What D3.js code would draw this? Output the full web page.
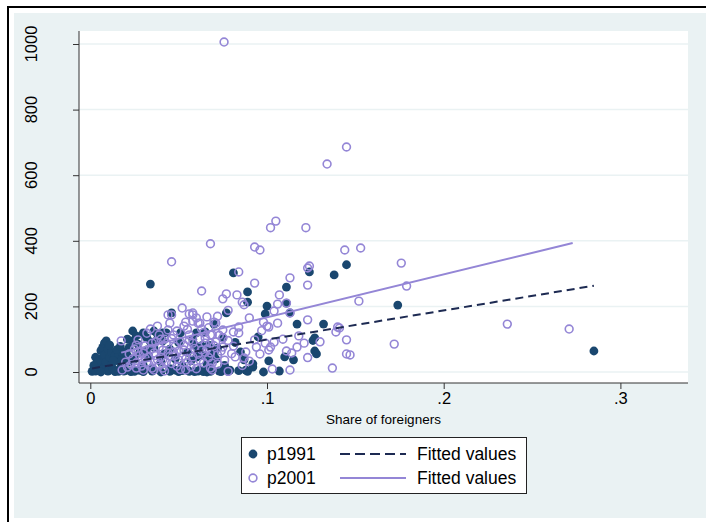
<!DOCTYPE html>
<html>
<head>
<meta charset="utf-8">
<script src="https://cdn.jsdelivr.net/npm/d3@7"></script>
<style>
    body { margin: 0; background: #fff; }
    svg { display: block; font-family: "Liberation Sans", Arial, sans-serif; }
</style>
</head>
<body>
<div class="scatter"></div>
<script>
// p1991 (filled) : [share of foreigners, value]
let p1991 = [
    [0.001, 2], [0.002, 8], [0.003, 3], [0.004, 15], [0.005, 5], [0.005, 25], [0.006, 40], [0.006, 65],
    [0.007, 75], [0.007, 10], [0.008, 88], [0.008, 52], [0.009, 95], [0.009, 30], [0.010, 70], [0.010, 3],
    [0.011, 45], [0.012, 60], [0.012, 20], [0.013, 8], [0.014, 50], [0.015, 35], [0.016, 55], [0.017, 12],
    [0.018, 40], [0.019, 25], [0.020, 5], [0.021, 50], [0.022, 30], [0.003, 45], [0.004, 30], [0.002, 20],
    [0.011, 82], [0.013, 35], [0.016, 2], [0.018, 60], [0.006, 0], [0.014, 1], [0.019, 3], [0.023, 1],
    [0.025, 2], [0.030, 1], [0.035, 3], [0.040, 0], [0.045, 2], [0.050, 1], [0.052, 4], [0.056, 2],
    [0.059, 1], [0.061, 3], [0.064, 1], [0.066, 0], [0.068, 2], [0.073, 3], [0.074, 1], [0.078, 2],
    [0.079, 6], [0.084, 4], [0.088, 6], [0.089, 2], [0.092, 15], [0.098, 0], [0.107, 3],
    [0.024, 125], [0.030, 119], [0.038, 116], [0.046, 180], [0.043, 119], [0.060, 119], [0.070, 146],
    [0.030, 113], [0.034, 92], [0.061, 67], [0.067, 82], [0.068, 30], [0.048, 6], [0.055, 6], [0.062, 6],
    [0.051, 119], [0.041, 119], [0.032, 67], [0.034, 268],
    [0.025, 40], [0.028, 60], [0.030, 20], [0.033, 50], [0.036, 75], [0.040, 30], [0.042, 55], [0.045, 70],
    [0.048, 40], [0.050, 90], [0.052, 20], [0.055, 60], [0.058, 100], [0.060, 45], [0.063, 80], [0.066, 25],
    [0.070, 60], [0.045, 10], [0.035, 8], [0.028, 5], [0.022, 75], [0.024, 95], [0.027, 85], [0.038, 100],
    [0.041, 95], [0.057, 35], [0.064, 50], [0.071, 40], [0.076, 20],
    [0.081, 302], [0.089, 244], [0.089, 213], [0.077, 180], [0.100, 201], [0.099, 177], [0.111, 259],
    [0.111, 210], [0.117, 146], [0.132, 146], [0.138, 296], [0.145, 327], [0.124, 305], [0.127, 104],
    [0.126, 96], [0.127, 64], [0.128, 55], [0.110, 46], [0.115, 37], [0.101, 34], [0.095, 107],
    [0.085, 61], [0.087, 37], [0.072, 73], [0.075, 104], [0.065, 122], [0.059, 82], [0.068, 46],
    [0.174, 204], [0.285, 64], [0.113, 180], [0.082, 90], [0.092, 25],
    [0.021, 100], [0.026, 110], [0.032, 104], [0.036, 125], [0.015, 68], [0.017, 78], [0.020, 62]
];

// p2001 (hollow)
let p2001 = [
    [0.0757, 1006], [0.145, 686], [0.134, 634], [0.105, 460], [0.102, 440], [0.122, 440], [0.068, 391],
    [0.093, 381], [0.096, 372], [0.144, 372], [0.046, 336], [0.153, 378], [0.176, 332], [0.179, 262],
    [0.152, 216], [0.141, 134], [0.145, 98], [0.172, 85], [0.147, 52], [0.236, 146], [0.271, 131],
    [0.063, 247], [0.084, 305], [0.093, 271], [0.077, 238], [0.075, 223], [0.083, 235], [0.086, 213],
    [0.113, 287], [0.123, 265], [0.123, 317], [0.124, 323], [0.107, 235], [0.111, 210], [0.106, 207],
    [0.104, 186], [0.113, 180], [0.123, 159], [0.106, 149], [0.101, 137], [0.098, 152], [0.139, 122],
    [0.140, 137], [0.121, 88], [0.117, 76], [0.114, 58], [0.111, 64], [0.104, 91], [0.102, 76],
    [0.101, 67], [0.103, 9], [0.113, 6], [0.137, 12], [0.145, 55], [0.094, 76], [0.088, 61], [0.087, 43],
    [0.082, 46], [0.081, 79], [0.075, 76], [0.072, 52], [0.069, 27], [0.068, 12], [0.081, 122],
    [0.084, 119], [0.084, 137], [0.075, 104], [0.068, 113], [0.065, 104], [0.060, 165], [0.058, 180],
    [0.062, 149], [0.066, 168], [0.071, 149], [0.075, 128], [0.068, 88], [0.063, 67], [0.058, 46],
    [0.052, 195], [0.046, 174], [0.045, 149], [0.058, 174], [0.058, 155], [0.054, 152], [0.053, 140],
    [0.061, 149], [0.070, 152], [0.063, 131], [0.034, 131], [0.039, 113], [0.047, 113], [0.056, 113],
    [0.069, 113], [0.037, 92], [0.043, 88], [0.051, 92], [0.058, 88], [0.065, 88], [0.071, 92],
    [0.030, 58], [0.036, 58], [0.041, 67], [0.047, 61], [0.053, 67], [0.068, 58], [0.032, 30],
    [0.038, 37], [0.043, 30], [0.050, 37], [0.054, 6], [0.069, 6], [0.035, 12], [0.041, 12],
    [0.0175, 95], [0.027, 98], [0.044, 174], [0.056, 177], [0.018, 6], [0.021, 15], [0.026, 12],
    [0.030, 6], [0.036, 6], [0.020, 30], [0.024, 40], [0.028, 50], [0.025, 70], [0.031, 80],
    [0.033, 45], [0.039, 22], [0.045, 48], [0.048, 78], [0.049, 18], [0.055, 28], [0.057, 60],
    [0.060, 10], [0.062, 36], [0.064, 120], [0.046, 102], [0.042, 3], [0.023, 22], [0.029, 35],
    [0.034, 70], [0.040, 45], [0.052, 48], [0.066, 70], [0.072, 24], [0.078, 2], [0.086, 20],
    [0.090, 33], [0.096, 55], [0.093, 98], [0.090, 165], [0.099, 88], [0.100, 140], [0.097, 126],
    [0.087, 205], [0.078, 188], [0.109, 100], [0.118, 110], [0.123, 44], [0.130, 92],
    [0.022, 55], [0.026, 28], [0.027, 62], [0.029, 18], [0.031, 42], [0.033, 24], [0.035, 88],
    [0.037, 50], [0.039, 76], [0.041, 38], [0.042, 100], [0.044, 58], [0.046, 26], [0.048, 50],
    [0.049, 125], [0.050, 64], [0.051, 8], [0.053, 82], [0.054, 40], [0.056, 96], [0.057, 16],
    [0.059, 72], [0.061, 54], [0.062, 100], [0.064, 28], [0.065, 60], [0.067, 44], [0.070, 80],
    [0.073, 112], [0.074, 64], [0.076, 36], [0.078, 96], [0.080, 56], [0.044, 128], [0.038, 140],
    [0.026, 82], [0.032, 118], [0.040, 100], [0.055, 130], [0.067, 135], [0.072, 170]
];

// fitted values (linear fit endpoints)
let fit1991 = [[0.001, 11], [0.285, 263]];
let fit2001 = [[0.0175, 59], [0.273, 393]];

let xTicks = [0, 0.1, 0.2, 0.3];
let xTickLabels = ['0', '.1', '.2', '.3'];
let yTicks = [0, 200, 400, 600, 800, 1000];

let xTitle = 'Share of foreigners';
let legendItems = [
    {label: 'p1991', type: 'filled'},
    {label: 'p2001', type: 'hollow'}
];
let legendFits = ['Fitted values', 'Fitted values'];

const W = 706, H = 522;
const navy = '#1a476f', lav = '#9486d6', dash = '#1d2a52', bg = '#eaf2f3';

function draw() {
    let svg = d3.select('.scatter')
        .append('svg')
        .attr('width', W)
        .attr('height', H);

    // graph region
    svg.append('rect').attr('x', 14).attr('y', 13).attr('width', W - 14).attr('height', 505).attr('fill', bg);
    svg.append('line').attr('x1', 7).attr('x2', W).attr('y1', 7).attr('y2', 7)
        .attr('stroke', '#000').attr('stroke-width', 2);
    svg.append('line').attr('x1', 8).attr('x2', 8).attr('y1', 6).attr('y2', H)
        .attr('stroke', '#000').attr('stroke-width', 2);

    let plot = {left: 79, right: 688, top: 31, bottom: 383};
    let x = d3.scaleLinear().domain([0, 0.3]).range([90.3, 620.4]);
    let y = d3.scaleLinear().domain([0, 1000]).range([372, 44]);

    svg.append('rect')
        .attr('x', plot.left).attr('y', plot.top)
        .attr('width', plot.right - plot.left).attr('height', plot.bottom - plot.top)
        .attr('fill', '#fff');

    // grid
    svg.append('g').selectAll('line')
        .data(yTicks)
        .enter().append('line')
        .attr('x1', plot.left).attr('x2', plot.right)
        .attr('y1', d => y(d)).attr('y2', d => y(d))
        .attr('stroke', bg).attr('stroke-width', 1.5);

    // axes
    let yAxis = svg.append('g')
        .attr('transform', `translate(${plot.left},0)`)
        .call(d3.axisLeft(y).tickValues(yTicks).tickSize(6).tickFormat(''));
    yAxis.select('.domain').attr('d', `M0,${plot.top}V${plot.bottom}`);
    yAxis.selectAll('path, line').attr('stroke', '#333');
    svg.append('g').selectAll('text')
        .data(yTicks)
        .enter().append('text')
        .attr('transform', d => `translate(37,${y(d)}) rotate(-90)`)
        .attr('text-anchor', 'middle')
        .style('font-size', '16.5px')
        .text(d => d);

    let xAxis = svg.append('g')
        .attr('transform', `translate(0,${plot.bottom})`)
        .call(d3.axisBottom(x).tickValues(xTicks).tickSize(6)
            .tickFormat((d, i) => xTickLabels[i]));
    xAxis.select('.domain').attr('d', `M${plot.left},0H${plot.right}`);
    xAxis.selectAll('path, line').attr('stroke', '#333');
    xAxis.selectAll('text')
        .attr('y', 9).attr('dy', '0.71em')
        .attr('fill', '#000')
        .style('font-size', '16.5px')
        .style('font-family', '"Liberation Sans", Arial, sans-serif');

    svg.append('text')
        .attr('x', (plot.left + plot.right) / 2).attr('y', 424)
        .attr('text-anchor', 'middle')
        .style('font-size', '13.5px')
        .text(xTitle);

    // points
    svg.append('g')
        .selectAll('circle')
        .data(p1991)
        .enter().append('circle')
        .attr('cx', d => x(d[0]))
        .attr('cy', d => y(d[1]))
        .attr('r', 4.4)
        .attr('fill', navy);

    svg.append('g')
        .selectAll('circle')
        .data(p2001)
        .enter().append('circle')
        .attr('cx', d => x(d[0]))
        .attr('cy', d => y(d[1]))
        .attr('r', 3.9)
        .attr('fill', 'none')
        .attr('stroke', lav)
        .attr('stroke-width', 1.6);

    let line = d3.line().x(d => x(d[0])).y(d => y(d[1]));
    svg.append('path').datum(fit1991)
        .attr('d', line)
        .attr('fill', 'none').attr('stroke', dash)
        .attr('stroke-width', 2).attr('stroke-dasharray', '8,5');
    svg.append('path').datum(fit2001)
        .attr('d', line)
        .attr('fill', 'none').attr('stroke', lav)
        .attr('stroke-width', 2);

    // legend
    let lg = svg.append('g');
    lg.append('rect')
        .attr('x', 241.5).attr('y', 437.5).attr('width', 285).attr('height', 56)
        .attr('fill', '#fff').attr('stroke', '#222').attr('stroke-width', 1);
    let rowY = [454, 478];
    legendItems.forEach((d, i) => {
        let c = lg.append('circle').attr('cx', 253).attr('cy', rowY[i]);
        if (d.type === 'filled') c.attr('r', 4.4).attr('fill', navy);
        else c.attr('r', 3.9).attr('fill', 'none').attr('stroke', lav).attr('stroke-width', 1.6);
        lg.append('text').attr('x', 267).attr('y', rowY[i] + 6)
            .style('font-size', '17.5px').text(d.label);
        let l = lg.append('line')
            .attr('x1', 340).attr('x2', 406).attr('y1', rowY[i]).attr('y2', rowY[i])
            .attr('stroke-width', 2);
        if (i === 0) l.attr('stroke', dash).attr('stroke-dasharray', '10,5');
        else l.attr('stroke', lav);
        lg.append('text').attr('x', 417).attr('y', rowY[i] + 6)
            .style('font-size', '17.5px').text(legendFits[i]);
    });
}

draw();
</script>
</body>
</html>
